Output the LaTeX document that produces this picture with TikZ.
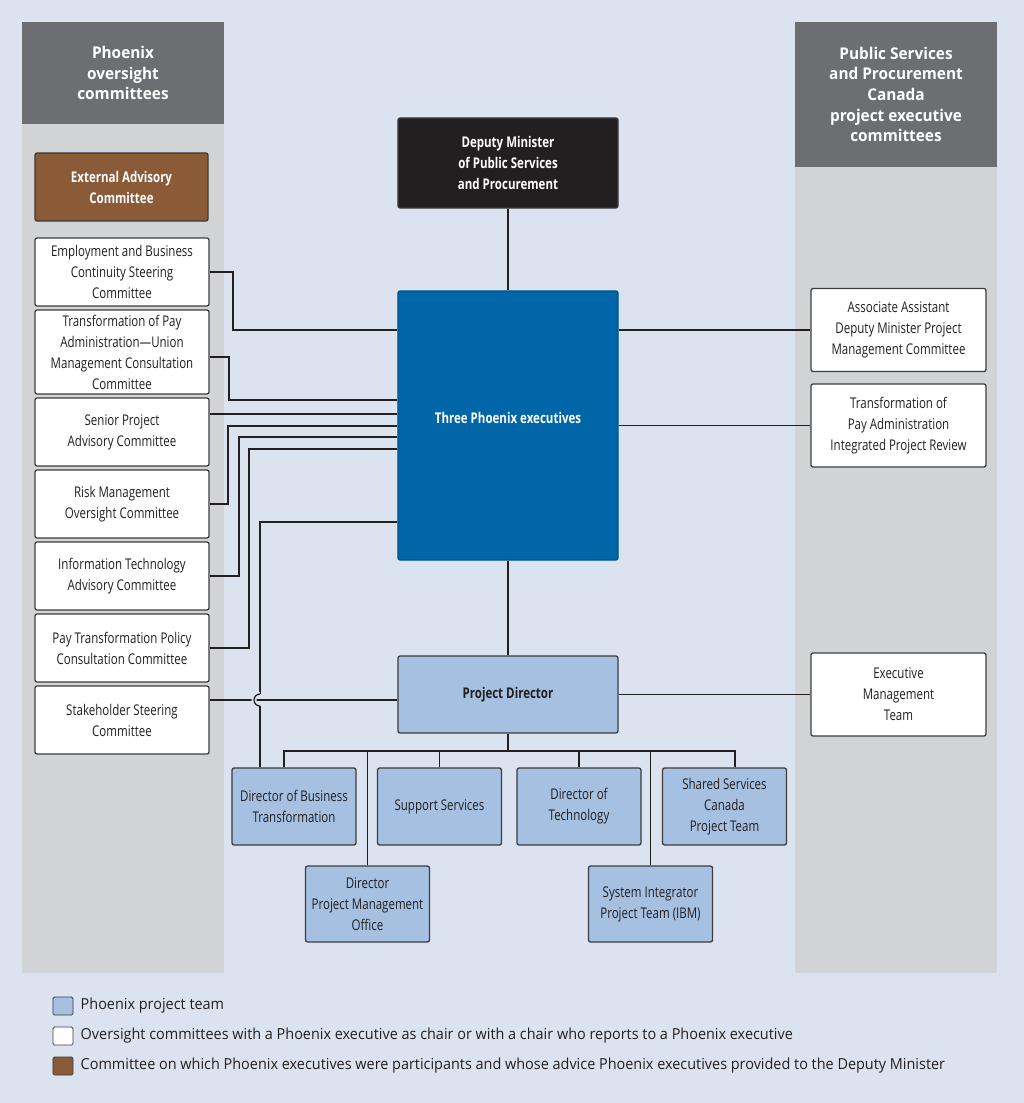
\documentclass[tikz,border=0pt]{standalone}
\usepackage{fontspec}
\setmainfont{Open Sans}[FakeStretch=0.78]
\newfontfamily\headfont{Open Sans}[FakeStretch=0.95]
\usetikzlibrary{positioning}

\definecolor{bg}{RGB}{220,227,240}
\definecolor{colgray}{RGB}{209,211,212}
\definecolor{headgray}{RGB}{109,110,113}
\definecolor{ink}{RGB}{35,31,32}
\definecolor{boxline}{RGB}{60,60,62}
\definecolor{brown}{RGB}{139,90,55}
\definecolor{execblue}{RGB}{0,102,168}
\definecolor{teamblue}{RGB}{165,192,224}

\begin{document}
\begin{tikzpicture}[x=0.025cm, y=-0.025cm, font=\fontsize{10.5}{14.9}\selectfont,
    box/.style={draw=boxline, line width=0.9pt, rounded corners=1.5pt, align=center, inner sep=0pt, text=ink},
    comm/.style={box, fill=white, minimum width=4.35cm, minimum height=1.7cm},
    exec/.style={box, minimum width=4.375cm, minimum height=2.075cm, fill=white},
    team/.style={box, fill=teamblue, minimum width=3.1cm, minimum height=1.925cm},
    top/.style={box, minimum width=5.5cm, font=\fontsize{10.5}{14.9}\selectfont\bfseries},
    head/.style={fill=headgray, text=white, align=center, inner sep=0pt, minimum width=5.05cm,
        font=\headfont\bfseries\fontsize{11.5}{14.7}\selectfont},
    key/.style={draw=boxline, line width=0.6pt, rounded corners=1pt, minimum width=0.5cm, minimum height=0.45cm, inner sep=0pt},
    keytext/.style={right=5pt of #1, text=ink, inner sep=0pt, font=\headfont\fontsize{10.8}{14.9}\selectfont},
    link/.style={draw=ink, line width=0.9pt}]

\useasboundingbox[fill=bg] (0,0) rectangle (1024,1103);

% columns
\fill[colgray] (22,124) rectangle (224,973);
\fill[colgray] (795,166) rectangle (997,973);
\node[head, minimum height=2.55cm]  at (123,73)   (lhead) {Phoenix\\oversight\\committees};
\node[head, minimum height=3.625cm] at (896,94.5) (rhead) {Public Services\\and Procurement\\Canada\\project executive\\committees};

% oversight committees
\node[comm, fill=brown, text=white, font=\fontsize{10.5}{14.9}\selectfont\bfseries,
      minimum width=4.325cm] at (121.5,187) (ext) {External Advisory\\Committee};
\node[comm] at (122,272) (ebc)  {Employment and Business\\Continuity Steering\\Committee};
\node[comm, minimum height=2.1cm] at (122,352) (tpau) {Transformation of Pay\\Administration---Union\\Management Consultation\\Committee};
\node[comm] at (122,432) (spac) {Senior Project\\Advisory Committee};
\node[comm] at (122,504) (rmoc) {Risk Management\\Oversight Committee};
\node[comm] at (122,576) (itac) {Information Technology\\Advisory Committee};
\node[comm] at (122,648) (ptpc) {Pay Transformation Policy\\Consultation Committee};
\node[comm] at (122,720) (sstc) {Stakeholder Steering\\Committee};

% centre
\node[top, fill=ink, text=white, minimum height=2.25cm] at (508,163) (dm) {Deputy Minister\\of Public Services\\and Procurement};
\node[top, fill=execblue, draw=execblue!80!black, text=white, minimum height=6.725cm,
      text depth=0.4cm] at (508,425.5) (exe) {Three Phoenix executives};
\node[top, fill=teamblue, minimum height=1.925cm] at (508,694.5) (pd) {Project Director};

% executive committees
\node[exec] at (898.5,330)   (aadm) {Associate Assistant\\Deputy Minister Project\\Management Committee};
\node[exec] at (898.5,425.5) (tpai) {Transformation of\\Pay Administration\\Integrated Project Review};
\node[exec] at (898.5,694.5) (emt)  {Executive\\Management\\Team};

% project team
\node[team] at (294,806.5)   (dbt)  {Director of Business\\Transformation};
\node[team] at (439.5,806.5) (ss)   {Support Services};
\node[team] at (579,806.5)   (dt)   {Director of\\Technology};
\node[team] at (724.5,806.5) (sspt) {Shared Services\\Canada\\Project Team};
\node[team, minimum height=1.9cm] at (367.5,904) (dpmo) {Director\\Project Management\\Office};
\node[team, minimum height=1.9cm] at (650.5,904) (sipt) {System Integrator\\Project Team (IBM)};

% connectors
\path[link, every edge/.style={link}]
    (dm) edge (exe)
    (exe) edge (pd)
    (exe.east |- aadm) edge (aadm)
    (exe.east |- tpai) edge (tpai)
    (pd) edge (emt);

\draw[link] (ebc.east) -- (233,272) |- (exe.west |- 0,330);
\draw[link] (tpau.east |- 0,357) -- (229,357) |- (exe.west |- 0,400);
\draw[link] (spac.east |- 0,414) -- (exe.west |- 0,414);
\draw[link] (rmoc.east) -- (228,504) |- (exe.west |- 0,426);
\draw[link] (itac.east) -- (239,576) |- (exe.west |- 0,437);
\draw[link] (ptpc.east) -- (249,648) |- (exe.west |- 0,449);
\draw[link] (sstc.east |- 0,700) -- (pd.west |- 0,700);
\draw[link] (exe.west |- 0,522) -| (260,694);
\draw[link, preaction={draw=bg, line width=3.5pt}] (260,694) arc[start angle=90, end angle=270, radius=0.15cm];
\draw[link] (260,706) -- (dbt.north -| 260,0);

\draw[link] (pd) -- (508,751);
\draw[link] (dbt.north -| 284,0) |- (735,751) -- (sspt.north -| 735,0);
\foreach \n in {ss, dt, dpmo, sipt}
    \draw[link] (\n) -- (\n |- 0,751);

% legend
\node[key, fill=teamblue] at (63,1006) (k1) {};
\node[key, fill=white]    at (63,1036) (k2) {};
\node[key, fill=brown]    at (63,1066) (k3) {};
\node[keytext=k1] {Phoenix project team};
\node[keytext=k2] {Oversight committees with a Phoenix executive as chair or with a chair who reports to a Phoenix executive};
\node[keytext=k3] {Committee on which Phoenix executives were participants and whose advice Phoenix executives provided to the Deputy Minister};

\end{tikzpicture}
\end{document}
